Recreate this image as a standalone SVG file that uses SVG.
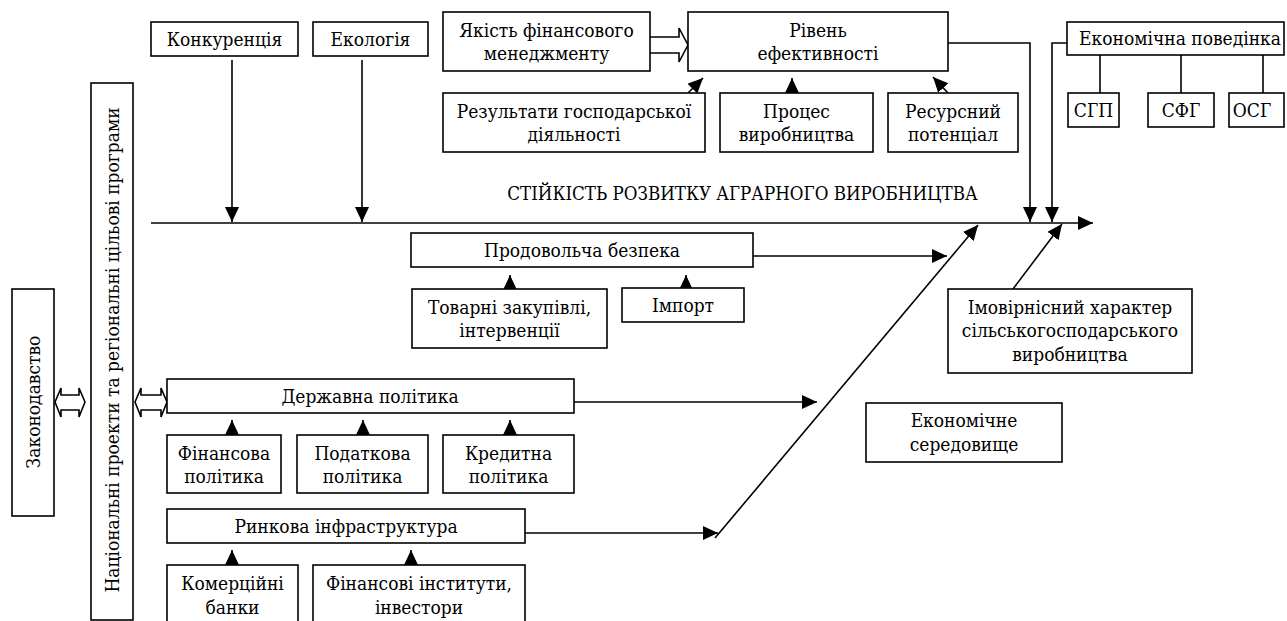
<svg xmlns="http://www.w3.org/2000/svg" width="1287" height="621" viewBox="0 0 1287 621">
<style>
rect.b{fill:#fff;stroke:#000;stroke-width:1.6}
.t text{font-size:19px;fill:#000;text-anchor:middle;font-stretch:condensed}
.t text.ttl{font-size:18.6px}
.c line,.c polyline,.c path{stroke:#000;stroke-width:1.6;fill:none}
.c .a{marker-end:url(#ah)}
.c .h{fill:#fff}
</style>
<defs>
<marker id="ah" markerUnits="userSpaceOnUse" markerWidth="16" markerHeight="15" refX="15" refY="7" orient="auto" viewBox="0 0 16 15">
<path d="M0,0 L15,7 L0,14 Z" fill="#000"/>
</marker>
</defs>
<g class="c" id="connectors">
<line x1="151" y1="223" x2="1093" y2="223" class="a"/>
<line x1="232" y1="60" x2="232" y2="222" class="a"/>
<line x1="362" y1="60" x2="362" y2="222" class="a"/>
<polyline points="948,43 1030,43 1030,222" class="a"/>
<polyline points="1067,43 1052,43 1052,222" class="a"/>
<line x1="1013" y1="289" x2="1062" y2="224" class="a"/>
<line x1="715" y1="538" x2="978" y2="225" class="a"/>
<line x1="753" y1="256" x2="947" y2="256" class="a"/>
<line x1="574" y1="402" x2="817" y2="402" class="a"/>
<line x1="525" y1="533" x2="718" y2="533" class="a"/>
<line x1="688" y1="93" x2="703" y2="78" class="a"/>
<line x1="792" y1="93" x2="792" y2="78" class="a"/>
<line x1="948" y1="93" x2="933" y2="77" class="a"/>
<line x1="510" y1="289" x2="510" y2="275" class="a"/>
<line x1="686" y1="288" x2="686" y2="275" class="a"/>
<line x1="232" y1="435" x2="232" y2="420" class="a"/>
<line x1="363" y1="435" x2="363" y2="420" class="a"/>
<line x1="510" y1="435" x2="510" y2="420" class="a"/>
<line x1="232" y1="565" x2="232" y2="550" class="a"/>
<line x1="411" y1="565" x2="411" y2="550" class="a"/>
<line x1="1100" y1="55" x2="1100" y2="93"/>
<line x1="1181" y1="55" x2="1181" y2="93"/>
<line x1="1263" y1="55" x2="1263" y2="93"/>
<path class="h" d="M650,37 L679,37 L679,28 L688,45 L679,62 L679,53 L650,53"/>
<path class="h" d="M55,402 L61,388 L61,395 L79,395 L79,388 L85,402 L79,417 L79,410 L61,410 L61,417 Z"/>
<path class="h" d="M135,402 L141,388 L141,395 L161,395 L161,388 L167,402 L161,417 L161,410 L141,410 L141,417 Z"/>
</g>
<g class="t" font-family="'DejaVu Serif', 'Liberation Serif', serif">
<g id="zakonodavstvo"><rect class="b" x="12" y="289" width="42" height="227"/><text transform="translate(40,402) rotate(-90)">Законодавство</text></g>
<g id="natsionalni"><rect class="b" x="91" y="83" width="42" height="537"/><text transform="translate(119,350) rotate(-90)">Національні проекти та регіональні цільові програми</text></g>
<g id="konkurentsiya"><rect class="b" x="151" y="22" width="147" height="34"/><text x="224.5" y="46">Конкуренція</text></g>
<g id="ekolohiya"><rect class="b" x="313" y="22" width="115" height="34"/><text x="370.5" y="46">Екологія</text></g>
<g id="yakist"><rect class="b" x="443" y="12" width="207" height="59"/><text x="546.5" y="37">Якість фінансового</text><text x="546.5" y="60">менеджменту</text></g>
<g id="riven"><rect class="b" x="688" y="12" width="260" height="59"/><text x="818" y="37">Рівень</text><text x="818" y="60">ефективності</text></g>
<g id="rezultaty"><rect class="b" x="443" y="93" width="262" height="59"/><text x="574" y="118">Результати господарської</text><text x="574" y="141">діяльності</text></g>
<g id="protses"><rect class="b" x="720" y="93" width="153" height="59"/><text x="796.5" y="118">Процес</text><text x="796.5" y="141">виробництва</text></g>
<g id="resursnyi"><rect class="b" x="888" y="93" width="130" height="59"/><text x="953" y="118">Ресурсний</text><text x="953" y="141">потенціал</text></g>
<g id="ekon-povedinka"><rect class="b" x="1067" y="22" width="217" height="33"/><text x="1180" y="45">Економічна поведінка</text></g>
<g id="sgp"><rect class="b" x="1068" y="93" width="51" height="34"/><text x="1093.5" y="117">СГП</text></g>
<g id="sfg"><rect class="b" x="1148" y="93" width="66" height="34"/><text x="1181" y="117">СФГ</text></g>
<g id="osg"><rect class="b" x="1229" y="93" width="55" height="34"/><text x="1252" y="117">ОСГ</text></g>
<g id="title"><text class="ttl" x="742.5" y="200">СТІЙКІСТЬ РОЗВИТКУ АГРАРНОГО ВИРОБНИЦТВА</text></g>
<g id="prodovolcha"><rect class="b" x="411" y="233" width="342" height="34"/><text x="582" y="257">Продовольча безпека</text></g>
<g id="tovarni"><rect class="b" x="412" y="289" width="195" height="59"/><text x="509.5" y="314">Товарні закупівлі,</text><text x="509.5" y="337">інтервенції</text></g>
<g id="import"><rect class="b" x="622" y="288" width="122" height="34"/><text x="683" y="312">Імпорт</text></g>
<g id="imovirnisnyi"><rect class="b" x="948" y="289" width="244" height="84"/><text x="1070" y="314">Імовірнісний характер</text><text x="1070" y="337">сільськогосподарського</text><text x="1070" y="361">виробництва</text></g>
<g id="ekon-seredovyshche"><rect class="b" x="866" y="403" width="196" height="59"/><text x="964" y="427">Економічне</text><text x="964" y="451">середовище</text></g>
<g id="derzhavna"><rect class="b" x="167" y="379" width="407" height="34"/><text x="370" y="403">Державна політика</text></g>
<g id="finansova"><rect class="b" x="167" y="435" width="114" height="58"/><text x="224" y="460">Фінансова</text><text x="224" y="483">політика</text></g>
<g id="podatkova"><rect class="b" x="297" y="435" width="131" height="58"/><text x="362.5" y="460">Податкова</text><text x="362.5" y="483">політика</text></g>
<g id="kredytna"><rect class="b" x="443" y="435" width="131" height="58"/><text x="508.5" y="460">Кредитна</text><text x="508.5" y="483">політика</text></g>
<g id="rynkova"><rect class="b" x="167" y="509" width="358" height="34"/><text x="346" y="533">Ринкова інфраструктура</text></g>
<g id="komertsiini"><rect class="b" x="167" y="565" width="131" height="70"/><text x="232.5" y="590">Комерційні</text><text x="232.5" y="614">банки</text></g>
<g id="finansovi-instytuty"><rect class="b" x="313" y="565" width="212" height="70"/><text x="419" y="590">Фінансові інститути,</text><text x="419" y="614">інвестори</text></g>
</g>
</svg>
